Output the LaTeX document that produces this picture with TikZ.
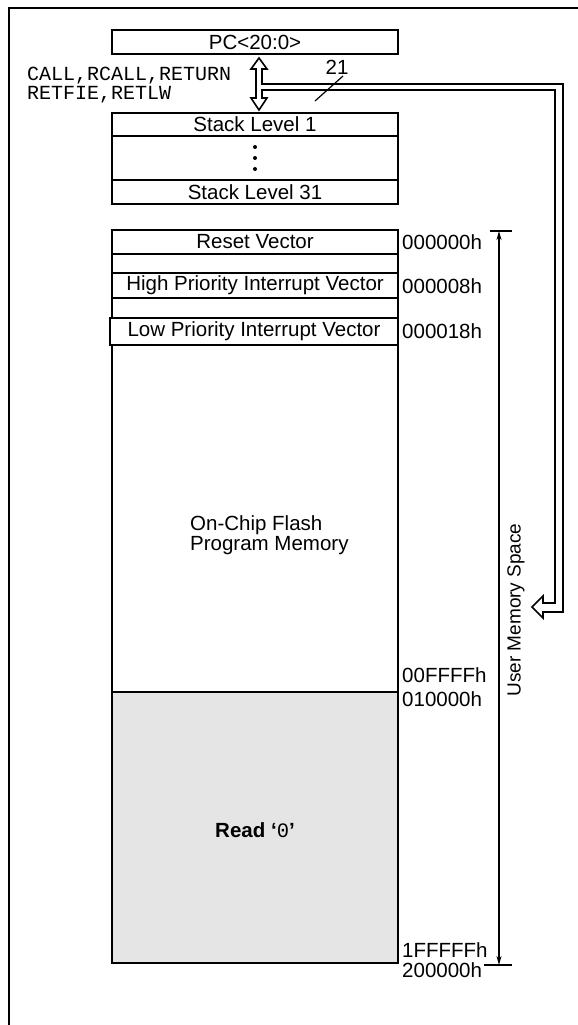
\documentclass[tikz,border=0pt]{standalone}
\usepackage{fontspec}
\setmainfont{Liberation Sans}
\setmonofont{Liberation Mono}
\usetikzlibrary{arrows.meta,calc}
\begin{document}
\begin{tikzpicture}[x=1pt,y=-1pt,line join=miter,
  ln/.style={line width=1.8pt},
  cell/.style={draw,line width=1.8pt,minimum width=286pt,inner sep=0pt,font=\fontsize{20.5}{22}\selectfont},
  addr/.style={anchor=west,inner sep=0pt,font=\fontsize{20.5}{22}\selectfont},
  lbl/.style={inner sep=0pt,font=\fontsize{20.5}{20}\selectfont}]
\useasboundingbox (0,0) rectangle (578,1025);
% frame
\draw[ln] (9,1025) -- (9,8) -- (578,8);
% PC and stack
\node[cell,minimum height=24pt] (pc) at (255,42) {PC<20:0>};
\node[cell,minimum height=23pt] (st1) at (255,124.5) {Stack Level 1};
\node[cell,minimum height=44pt] (stm) at (255,158) {};
\node[cell,minimum height=24pt] (st31) at (255,192) {Stack Level 31};
\foreach \yy in {147,158,169}{\fill (stm.center |- 0,\yy) circle (2pt);}
% hollow arrows
\draw[ln,line width=1.6pt] (259,58) -- (267,69) -- (262,69) -- (262,84) -- (563,84) -- (563,612)
  -- (543,612) -- (543,618) -- (532,607) -- (543,596) -- (543,603) -- (555,603) -- (555,90)
  -- (262,90) -- (262,98) -- (267,98) -- (259,110) -- (251,98) -- (256,98) -- (256,69) -- (251,69) -- cycle;
\node[inner sep=0pt,anchor=west,align=left,font=\fontsize{20}{19}\ttfamily] (ins) at (27,85)
  {CALL,RCALL,RETURN\\RETFIE,RETLW};
\node[lbl] (w21) at (337,67) {21};
\draw[line width=1.2pt] (315,101) -- (343,76);
% memory map
\node[cell,minimum height=24pt] (rv) at (255,242) {Reset Vector};
\node[cell,minimum height=19pt] (b1) at (255,263.5) {};
\node[cell,minimum height=25pt] (hp) at (255,285.5) {High Priority Interrupt Vector};
\node[cell,minimum height=20pt] (b2) at (255,308) {};
\node[cell,minimum height=347pt] (fl) at (255,518.5) {};
\node[cell,minimum height=271pt,fill=black!10] (rd) at (255,827.5) {};
\node[cell,minimum width=288pt,minimum height=27pt,line width=2.4pt] (lp) at (254,331.5) {Low Priority Interrupt Vector};
\node[lbl,align=left,anchor=north west] (ocf) at (190,515) {On-Chip Flash\\Program Memory};
\node[lbl] (rd0) at (255,830) {\textbf{Read ‘}{\ttfamily 0}\textbf{’}};
% addresses
\node[addr] (a0) at (402,242) {000000h};
\node[addr] (a8) at (402,286) {000008h};
\node[addr] (a18) at (402,331) {000018h};
\node[addr] (aff) at (402,675) {00FFFFh};
\node[addr] (a10) at (402,699) {010000h};
\node[addr] (a1f) at (402,950) {1FFFFFh};
\node[addr] (a20) at (402,970) {200000h};
% user memory space
\coordinate (ut) at (499,231);
\coordinate (ub) at (499,965);
\draw[line width=1.3pt] (490,231) -- (512,231);
\draw[line width=1.3pt] (484,965) -- (512,965);
\draw[line width=1.3pt,{Stealth[length=9pt,width=5pt]}-{Stealth[length=9pt,width=5pt]}] (ut) -- (ub);
\node[inner sep=0pt,font=\fontsize{19}{20}\selectfont,rotate=90] (ums) at (516,610) {User Memory Space};
\end{tikzpicture}
\end{document}
